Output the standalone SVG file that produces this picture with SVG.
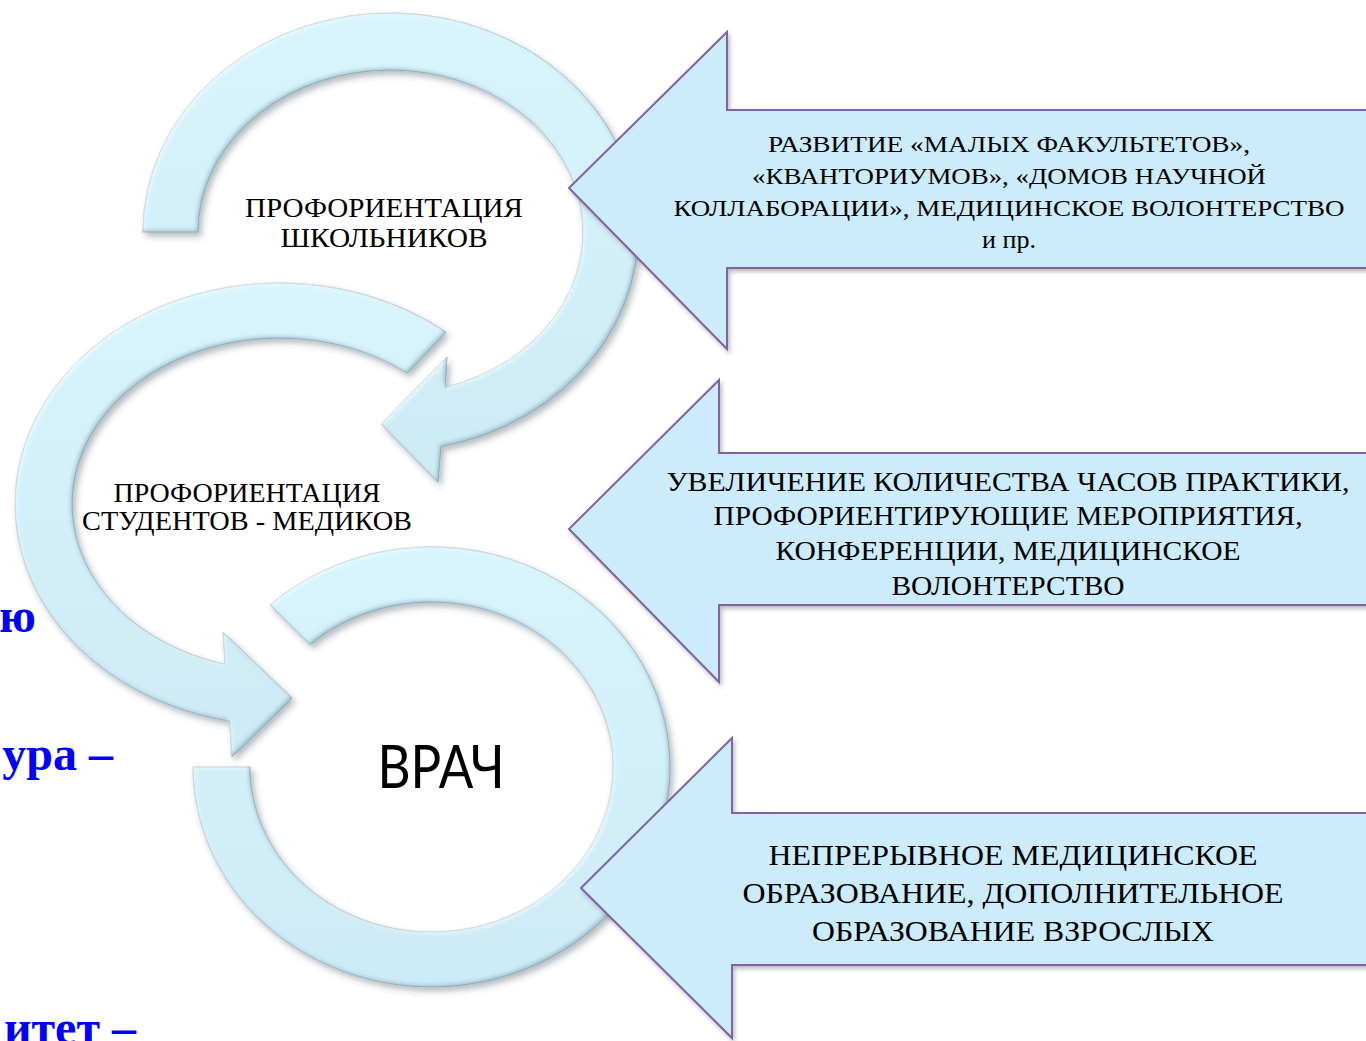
<svg xmlns="http://www.w3.org/2000/svg" width="1366" height="1041" viewBox="0 0 1366 1041">
<defs>
  <linearGradient id="ringGrad" x1="0" y1="0" x2="0" y2="1">
    <stop offset="0" stop-color="#D8F5FD"/>
    <stop offset="1" stop-color="#CDEBF6"/>
  </linearGradient>
  <filter id="ringFx" x="-10%" y="-10%" width="125%" height="125%">
    <feGaussianBlur in="SourceAlpha" stdDeviation="3" result="sb"/>
    <feOffset in="sb" dx="3" dy="4" result="so"/>
    <feFlood flood-color="#2f3f4a" flood-opacity="0.35" result="sc"/>
    <feComposite in="sc" in2="so" operator="in" result="shadow"/>
    <feGaussianBlur in="SourceAlpha" stdDeviation="2" result="eb"/>
    <feOffset in="eb" dx="-2" dy="-2" result="eo"/>
    <feComposite in="SourceAlpha" in2="eo" operator="out" result="edge"/>
    <feFlood flood-color="#6F93A5" flood-opacity="0.65" result="ec"/>
    <feComposite in="ec" in2="edge" operator="in" result="darkEdge"/>
    <feOffset in="eb" dx="2" dy="2" result="ho"/>
    <feComposite in="SourceAlpha" in2="ho" operator="out" result="hedge"/>
    <feFlood flood-color="#FFFFFF" flood-opacity="0.6" result="hc"/>
    <feComposite in="hc" in2="hedge" operator="in" result="lightEdge"/>
    <feMerge>
      <feMergeNode in="shadow"/>
      <feMergeNode in="SourceGraphic"/>
      <feMergeNode in="lightEdge"/>
      <feMergeNode in="darkEdge"/>
    </feMerge>
  </filter>
  <filter id="blockShadow" x="-5%" y="-5%" width="110%" height="115%">
    <feDropShadow dx="2" dy="3" stdDeviation="2" flood-color="#444" flood-opacity="0.35"/>
  </filter>
</defs>
<style>
  .ring { fill: url(#ringGrad); stroke: #9EBECE; stroke-width: 1; filter: url(#ringFx); }
  .block { fill: #CCEBFB; stroke: #7F63A4; stroke-width: 2; filter: url(#blockShadow); }
  .lbl { font-family: "Liberation Serif", "Times New Roman", serif; fill: #000; text-anchor: middle; }
  .side { font-family: "Liberation Serif", "Times New Roman", serif; font-weight: bold; fill: #0000FF; font-size: 48px; text-anchor: end; }
  .doc { font-family: Lato, "Open Sans", sans-serif; fill: #000; text-anchor: middle; font-size: 60px; }
</style>
<rect width="1366" height="1041" fill="#FFFFFF"/>

<g id="background-text">
  <text class="side" x="36" y="632">ю</text>
  <text class="side" x="113" y="770">ура –</text>
  <text class="side" x="136" y="1044">итет –</text>
</g>

<g id="connectors">
  <path id="ring-schoolchildren" class="ring" d="M 143,232 A 247.5 219 0 1 1 441,446.4 L 438,482 L 381,424 L 447,357 L 445,387.4 A 192.5 162 0 1 0 198,232 Z"/>
  <path id="ring-students" class="ring" d="M 446,332.2 A 264.5 221 0 1 0 229.5,721 L 232,757 L 292,698 L 223,632 L 225,664.2 A 207.5 166 0 1 1 407,373 Z"/>
  <path id="ring-doctor" class="ring" d="M 270,605 A 238.5 220 0 1 1 193,767 L 250,767 A 181.5 165 0 1 0 310,644.4 Z"/>
</g>

<g id="node-schoolchildren">
  <text class="lbl" font-size="28" x="384" y="217" textLength="278" lengthAdjust="spacingAndGlyphs">ПРОФОРИЕНТАЦИЯ</text>
  <text class="lbl" font-size="28" x="384" y="247" textLength="207" lengthAdjust="spacingAndGlyphs">ШКОЛЬНИКОВ</text>
</g>

<g id="node-students">
  <text class="lbl" font-size="27" x="247" y="502" textLength="267" lengthAdjust="spacingAndGlyphs">ПРОФОРИЕНТАЦИЯ</text>
  <text class="lbl" font-size="27" x="247" y="530" textLength="330" lengthAdjust="spacingAndGlyphs">СТУДЕНТОВ - МЕДИКОВ</text>
</g>

<g id="node-doctor">
  <text class="doc" x="441" y="788" textLength="127" lengthAdjust="spacingAndGlyphs">ВРАЧ</text>
</g>

<g id="node-school-measures">
  <path class="block" d="M 1372,110 L 727,110 L 727,32 L 569,188 L 727,349 L 727,268 L 1372,268 Z"/>
  <text class="lbl" font-size="24" x="1009" y="152" textLength="482" lengthAdjust="spacingAndGlyphs">РАЗВИТИЕ «МАЛЫХ ФАКУЛЬТЕТОВ»,</text>
  <text class="lbl" font-size="24" x="1009" y="184" textLength="514" lengthAdjust="spacingAndGlyphs">«КВАНТОРИУМОВ», «ДОМОВ НАУЧНОЙ</text>
  <text class="lbl" font-size="24" x="1009" y="216" textLength="671" lengthAdjust="spacingAndGlyphs">КОЛЛАБОРАЦИИ», МЕДИЦИНСКОЕ ВОЛОНТЕРСТВО</text>
  <text class="lbl" font-size="25" x="1009" y="248" textLength="54" lengthAdjust="spacingAndGlyphs">и пр.</text>
</g>

<g id="node-student-measures">
  <path class="block" d="M 1372,453 L 719,453 L 719,380 L 569,529 L 719,682 L 719,605 L 1372,605 Z"/>
  <text class="lbl" font-size="27" x="1008" y="491" textLength="683" lengthAdjust="spacingAndGlyphs">УВЕЛИЧЕНИЕ КОЛИЧЕСТВА ЧАСОВ ПРАКТИКИ,</text>
  <text class="lbl" font-size="27" x="1008" y="525" textLength="589" lengthAdjust="spacingAndGlyphs">ПРОФОРИЕНТИРУЮЩИЕ МЕРОПРИЯТИЯ,</text>
  <text class="lbl" font-size="27" x="1008" y="560" textLength="465" lengthAdjust="spacingAndGlyphs">КОНФЕРЕНЦИИ, МЕДИЦИНСКОЕ</text>
  <text class="lbl" font-size="27" x="1008" y="595" textLength="233" lengthAdjust="spacingAndGlyphs">ВОЛОНТЕРСТВО</text>
</g>

<g id="node-doctor-measures">
  <path class="block" d="M 1372,813 L 732,813 L 732,738 L 581,888 L 732,1038 L 732,965 L 1372,965 Z"/>
  <text class="lbl" font-size="30" x="1013" y="865" textLength="489" lengthAdjust="spacingAndGlyphs">НЕПРЕРЫВНОЕ МЕДИЦИНСКОЕ</text>
  <text class="lbl" font-size="30" x="1013" y="903" textLength="541" lengthAdjust="spacingAndGlyphs">ОБРАЗОВАНИЕ, ДОПОЛНИТЕЛЬНОЕ</text>
  <text class="lbl" font-size="30" x="1013" y="941" textLength="402" lengthAdjust="spacingAndGlyphs">ОБРАЗОВАНИЕ ВЗРОСЛЫХ</text>
</g>
</svg>
